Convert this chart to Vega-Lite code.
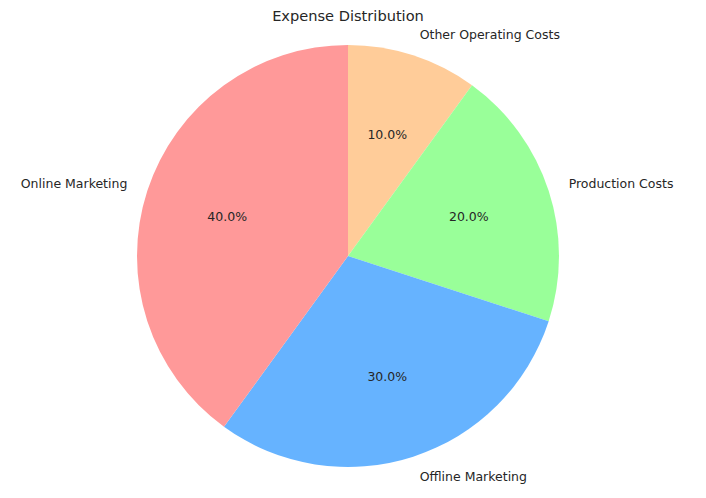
{
  "$schema": "https://vega.github.io/schema/vega-lite/v6.json",
  "width": 696,
  "height": 452,
  "autosize": "none",
  "padding": {"left": 0, "top": 30, "right": 10, "bottom": 16},
  "background": "white",
  "title": {"text": "Expense Distribution", "font": "DejaVu Sans", "fontSize": 14.6, "fontWeight": "normal", "color": "#262626", "offset": 6},
  "config": {"view": {"stroke": null}},
  "data": {"values": [
    {"category": "Other Operating Costs", "value": 10, "pct": "10.0%", "ord": 1},
    {"category": "Production Costs", "value": 20, "pct": "20.0%", "ord": 2},
    {"category": "Offline Marketing", "value": 30, "pct": "30.0%", "ord": 3},
    {"category": "Online Marketing", "value": 40, "pct": "40.0%", "ord": 4}
  ]},
  "encoding": {
    "theta": {"field": "value", "type": "quantitative", "stack": true},
    "order": {"field": "ord", "type": "quantitative"}
  },
  "layer": [
    {
      "mark": {"type": "arc", "outerRadius": 211},
      "encoding": {
        "color": {"field": "category", "type": "nominal", "legend": null,
          "scale": {"domain": ["Online Marketing", "Offline Marketing", "Production Costs", "Other Operating Costs"], "range": ["#ff9999", "#66b3ff", "#99ff99", "#ffcc99"]}}
      }
    },
    {
      "mark": {"type": "text", "radius": 127, "font": "DejaVu Sans", "fontSize": 12.5, "color": "#262626", "baseline": "middle", "align": "center"},
      "encoding": {"text": {"field": "pct"}}
    },
    {
      "mark": {"type": "text", "radius": 232, "font": "DejaVu Sans", "fontSize": 12.5, "color": "#262626", "baseline": "middle", "align": "right"},
      "encoding": {"text": {"condition": {"test": "datum.category === 'Online Marketing'", "field": "category"}, "value": ""}}
    },
    {
      "mark": {"type": "text", "radius": 232, "font": "DejaVu Sans", "fontSize": 12.5, "color": "#262626", "baseline": "middle", "align": "left"},
      "encoding": {"text": {"condition": {"test": "datum.category !== 'Online Marketing'", "field": "category"}, "value": ""}}
    }
  ]
}
